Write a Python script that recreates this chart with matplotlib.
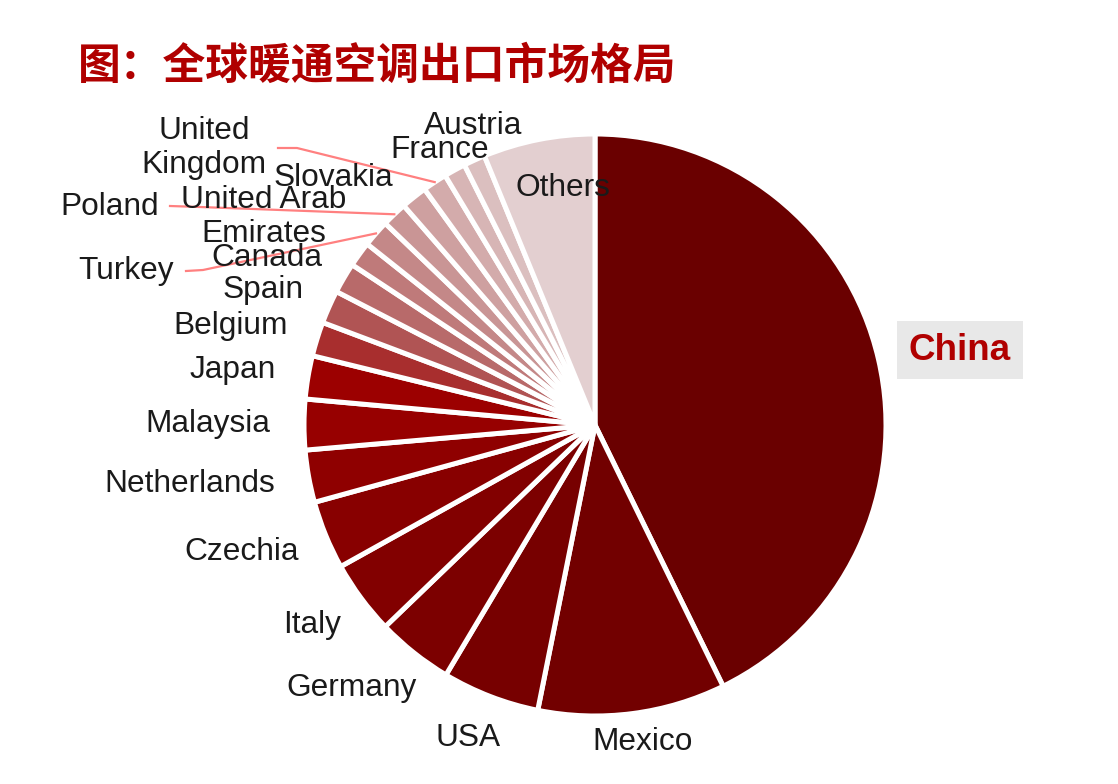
import matplotlib
matplotlib.use("Agg")
import matplotlib.pyplot as plt
import numpy as np

plt.rcParams['font.family'] = ['Liberation Sans', 'DejaVu Sans']

# data (share of exports, %)
countries = ['China', 'Mexico', 'USA', 'Germany', 'Italy', 'Czechia', 'Netherlands',
             'Malaysia', 'Japan', 'Belgium', 'Spain', 'Canada', 'United Arab\nEmirates',
             'Turkey', 'Poland', 'Slovakia', 'United\nKingdom', 'France', 'Austria', 'Others']
shares = [42.7, 10.4, 5.4, 4.25, 4.1, 3.8, 2.9, 2.8, 2.4, 1.9, 1.85, 1.7, 1.4,
          1.5, 1.4, 1.45, 1.35, 1.2, 1.2, 6.2]
colors = ['#6a0000', '#720000', '#770000', '#7c0000', '#820000', '#880000', '#8f0000',
          '#970000', '#9c0000', '#a82e2e', '#b05454', '#b86a6a', '#bf7a7a', '#c48888',
          '#c99595', '#cea0a0', '#d3abab', '#d7b5b5', '#dbbfbf', '#e3cfd0']
title = '图：全球暖通空调出口市场格局'

# layout (pixels of the 1118x784 canvas)
W, H = 1118, 784
CX, CY, R = 595, 425, 291
label_px = {
    'China': (960, 350), 'Mexico': (643, 742), 'USA': (468, 738), 'Germany': (352, 688),
    'Italy': (312, 625), 'Czechia': (242, 552), 'Netherlands': (190, 484),
    'Malaysia': (208, 424), 'Japan': (233, 370), 'Belgium': (231, 326),
    'Spain': (263, 290), 'Canada': (267, 258), 'United Arab\nEmirates': (264, 217),
    'Turkey': (126, 271), 'Poland': (110, 207), 'Slovakia': (333, 178),
    'United\nKingdom': (204, 148), 'France': (440, 150), 'Austria': (473, 126),
    'Others': (563, 188),
}
# leader lines: knee and end of line near the label
leaders = {
    'Turkey': [(203, 270), (186, 271)],
    'Poland': [(200, 207), (170, 206)],
    'United\nKingdom': [(297, 148), (278, 148)],
}


def px(p):
    return ((p[0] - CX) / R, (CY - p[1]) / R)


fig = plt.figure(figsize=(W / 100, H / 100), dpi=100)
ax = fig.add_axes([0, 0, 1, 1])
wedges, _ = ax.pie(shares, colors=colors, startangle=90, counterclock=False,
                   wedgeprops=dict(edgecolor='white', linewidth=3.6))
ax.set_xlim(-CX / R, (W - CX) / R)
ax.set_ylim((CY - H) / R, CY / R)
ax.set_aspect('auto')
ax.axis('off')

for w, name in zip(wedges, countries):
    x, y = px(label_px[name])
    if name == 'China':
        ax.text(x, y, name, ha='center', va='center', fontsize=26.5, fontweight='bold',
                color='#b00000',
                bbox=dict(boxstyle='square,pad=0.32', fc='#e8e8e8', ec='none'))
        continue
    ax.text(x, y, name, ha='center', va='center', fontsize=22.8, color='#1a1a1a',
            linespacing=1.15)
    if name in leaders:
        mid = np.deg2rad((w.theta1 + w.theta2) / 2)
        pts = [(np.cos(mid), np.sin(mid))] + [px(p) for p in leaders[name]]
        xs, ys = zip(*pts)
        ax.plot(xs, ys, color='#ff8080', lw=1.6, zorder=1)

fig.text(78 / W, 1 - 66 / H, title, ha='left', va='center', fontsize=30.8,
         fontweight='bold', color='#b00000',
         family=['Noto Sans CJK SC', 'DejaVu Sans'])

fig.savefig('out.png', dpi=100)
